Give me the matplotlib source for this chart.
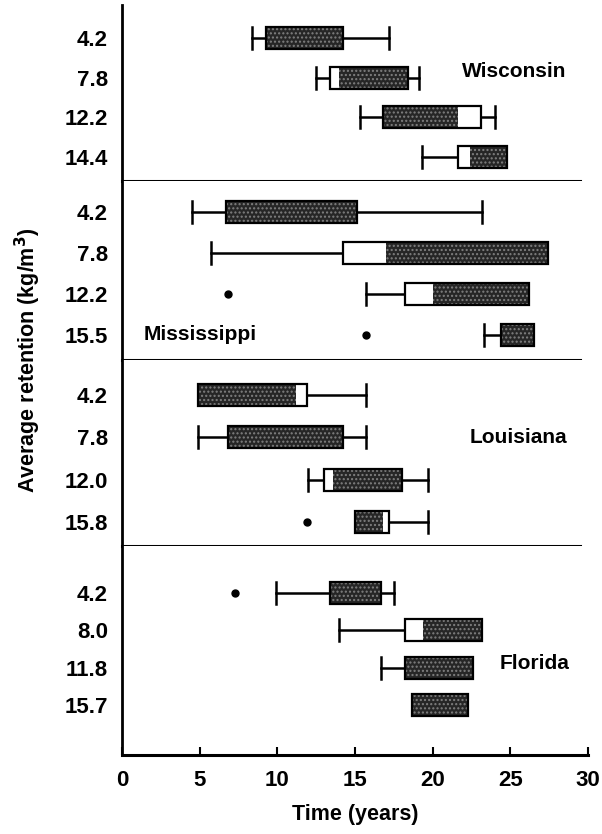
import numpy as np
import matplotlib
matplotlib.use("Agg")
import matplotlib.pyplot as plt
from matplotlib.patches import Rectangle

plt.rcParams['font.family'] = ['Liberation Sans', 'DejaVu Sans']
plt.rcParams['font.weight'] = 'bold'

nan = np.nan

# --- data (years) ---
states = ['Wisconsin', 'Mississippi', 'Louisiana', 'Florida']

wi_ret = ['4.2', '7.8', '12.2', '14.4']
wi_wlo = [8.4, 12.5, 15.3, 19.3]
wi_q1 = [9.3, 13.4, 16.8, 21.6]
wi_q3 = [14.2, 18.4, 23.1, 24.8]
wi_whi = [17.2, 19.1, 24.0, nan]
wi_flo = [9.3, 14.0, 16.8, 22.4]
wi_fhi = [14.2, 18.4, 21.6, 24.8]
wi_out = [[], [], [], []]

ms_ret = ['4.2', '7.8', '12.2', '15.5']
ms_wlo = [4.5, 5.7, 15.7, 23.3]
ms_q1 = [6.7, 14.2, 18.2, 24.4]
ms_q3 = [15.1, 27.4, 26.2, 26.5]
ms_whi = [23.2, nan, nan, nan]
ms_flo = [6.7, 17.0, 20.0, 24.4]
ms_fhi = [15.1, 27.4, 26.2, 26.5]
ms_out = [[], [], [6.8], [15.7]]

la_ret = ['4.2', '7.8', '12.0', '15.8']
la_wlo = [nan, 4.9, 12.0, nan]
la_q1 = [4.9, 6.8, 13.0, 15.0]
la_q3 = [11.9, 14.2, 18.0, 17.2]
la_whi = [15.7, 15.7, 19.7, 19.7]
la_flo = [4.9, 6.8, 13.6, 15.0]
la_fhi = [11.2, 14.2, 18.0, 16.8]
la_out = [[], [], [], [11.9]]

fl_ret = ['4.2', '8.0', '11.8', '15.7']
fl_wlo = [9.9, 14.0, 16.7, nan]
fl_q1 = [13.4, 18.2, 18.2, 18.7]
fl_q3 = [16.7, 23.2, 22.6, 22.3]
fl_whi = [17.5, nan, nan, nan]
fl_flo = [13.4, 19.4, 18.2, 18.7]
fl_fhi = [16.7, 23.2, 22.6, 22.3]
fl_out = [[7.3], [], [], []]

panels = [
    (wi_ret, wi_wlo, wi_q1, wi_q3, wi_whi, wi_flo, wi_fhi, wi_out),
    (ms_ret, ms_wlo, ms_q1, ms_q3, ms_whi, ms_flo, ms_fhi, ms_out),
    (la_ret, la_wlo, la_q1, la_q3, la_whi, la_flo, la_fhi, la_out),
    (fl_ret, fl_wlo, fl_q1, fl_q3, fl_whi, fl_flo, fl_fhi, fl_out),
]

# layout in pixels: panel edges, first-row offset and row pitch per panel
W, H = 602, 834
edges = [5, 181, 360, 546, 755]
first_row = [33, 31, 35, 47]
pitch = [39.7, 41.0, 42.3, 37.3]
label_pos = [(21.9, 0.85), (1.4, 3.0), (22.4, 1.0), (24.3, 1.9)]
x_left, x_right = 122, 588
box_px = 22

fig = plt.figure(figsize=(W / 100, H / 100), dpi=100)

for k, (ret, wlo, q1, q3, whi, flo, fhi, out) in enumerate(panels):
    top, bot = edges[k], edges[k + 1]
    ax = fig.add_axes([x_left / W, 1 - bot / H, (x_right - x_left) / W, (bot - top) / H])
    ax.set_xlim(0, 30)
    ax.set_ylim((bot - top - first_row[k]) / pitch[k], -first_row[k] / pitch[k])
    rows = np.arange(len(ret))
    bh = box_px / pitch[k]
    for i in rows:
        # whiskers
        if not np.isnan(wlo[i]):
            ax.plot([wlo[i], q1[i]], [i, i], color='black', lw=1.8, zorder=2)
            ax.plot([wlo[i], wlo[i]], [i - bh / 2, i + bh / 2], color='black', lw=1.8, zorder=2)
        if not np.isnan(whi[i]):
            ax.plot([q3[i], whi[i]], [i, i], color='black', lw=1.8, zorder=2)
            ax.plot([whi[i], whi[i]], [i - bh / 2, i + bh / 2], color='black', lw=1.8, zorder=2)
        # box: white, with the stippled dark part on top
        ax.add_patch(Rectangle((q1[i], i - bh / 2), q3[i] - q1[i], bh,
                               facecolor='white', edgecolor='none', zorder=3))
        ax.add_patch(Rectangle((flo[i], i - bh / 2), fhi[i] - flo[i], bh,
                               facecolor='#262626', edgecolor='none', zorder=4))
        ax.add_patch(Rectangle((flo[i], i - bh / 2), fhi[i] - flo[i], bh,
                               facecolor='none', edgecolor='#808080', hatch='....',
                               linewidth=0, zorder=5))
        ax.add_patch(Rectangle((q1[i], i - bh / 2), q3[i] - q1[i], bh,
                               facecolor='none', edgecolor='black', lw=1.6, zorder=6))
        for o in out[i]:
            ax.plot(o, i, 'o', color='black', ms=5, zorder=6)

    ax.text(label_pos[k][0], label_pos[k][1], states[k], fontsize=15,
            fontweight='bold', va='center', ha='left')

    ax.set_yticks(rows)
    ax.set_yticklabels(ret, fontsize=16, fontweight='bold')
    ax.tick_params(axis='y', length=0, pad=10)
    for s in ['top', 'right']:
        ax.spines[s].set_visible(False)
    ax.spines['left'].set_linewidth(2)
    ax.spines['bottom'].set_linewidth(2.2)
    if k < 3:
        ax.spines['bottom'].set_bounds(0, 29.5)
        ax.set_xticks([])
    else:
        ax.set_xticks([0, 5, 10, 15, 20, 25, 30])
        ax.tick_params(axis='x', direction='in', length=6, width=1.5,
                       labelsize=16, pad=11)
        for t in ax.get_xticklabels():
            t.set_fontweight('bold')
        ax.set_xlabel('Time (years)', fontsize=15.5, fontweight='bold', labelpad=9)

fig.text(28 / W, 1 - 360 / H, 'Average retention (kg/m$^\\mathbf{3}$)',
         rotation=90, ha='center', va='center', fontsize=15.5, fontweight='bold')

fig.savefig('out.png', dpi=100)
